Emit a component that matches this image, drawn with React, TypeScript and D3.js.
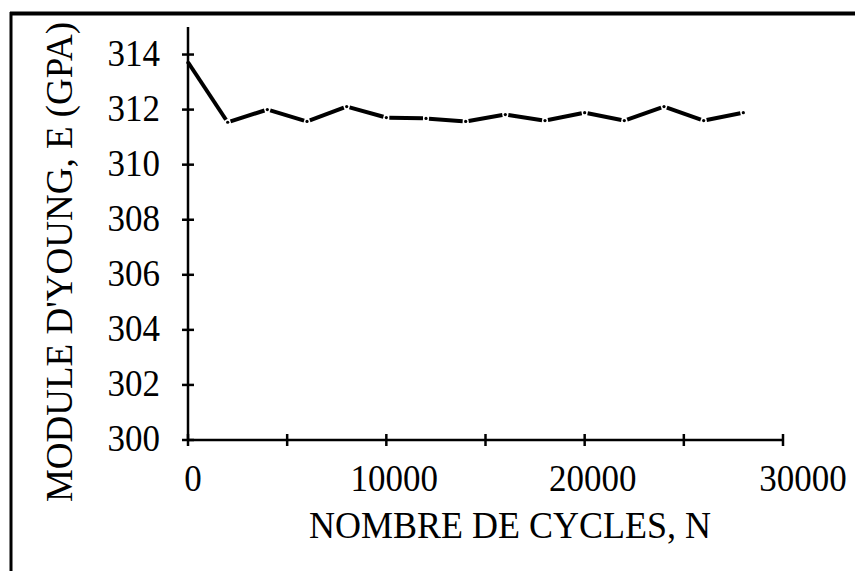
import React from "react";
import * as d3 from "d3";

const cycles = [0, 2000, 4000, 6000, 8000, 10000, 12000, 14000, 16000, 18000, 20000, 22000, 24000, 26000, 28000];
const modulus = [313.72, 311.54, 312.0, 311.57, 312.11, 311.71, 311.68, 311.57, 311.82, 311.6, 311.89, 311.6, 312.11, 311.6, 311.89];
const xTicks = [0, 5000, 10000, 15000, 20000, 25000, 30000];
const xTickLabels = [0, 10000, 20000, 30000];
const yTicks = [300, 302, 304, 306, 308, 310, 312, 314];
const xTitle = "NOMBRE DE CYCLES, N";
const yTitle = "MODULE D'YOUNG, E (GPA)";

export default function App() {
  const W = 855, H = 571;
  const x = d3.scaleLinear().domain([0, 30000]).range([188, 783]);
  const y = d3.scaleLinear().domain([300, 315]).range([440, 27]);
  const font = "'Liberation Serif', 'Times New Roman', serif";
  const pts = cycles.map((c, i) => [x(c), y(modulus[i])] as [number, number]);
  const gap = 3;
  const segs = pts.slice(1).map((p, i) => {
    const a = pts[i];
    const dx = p[0] - a[0], dy = p[1] - a[1];
    const L = Math.hypot(dx, dy);
    const ux = dx / L, uy = dy / L;
    const g0 = i === 0 ? 0 : gap;
    return [a[0] + ux * g0, a[1] + uy * g0, p[0] - ux * gap, p[1] - uy * gap];
  });
  return (
    <svg width={W} height={H} style={{ position: "absolute", left: 0, top: 0, background: "#fff" }}>
      <rect x={0} y={0} width={W} height={H} fill="#fff" />
      {/* frame */}
      <line x1={11} y1={12} x2={11} y2={H} stroke="#000" strokeWidth={3} />
      <line x1={10} y1={13.5} x2={W} y2={13.5} stroke="#000" strokeWidth={4} />
      {/* y axis */}
      <line x1={x(0)} y1={y(315)} x2={x(0)} y2={y(300)} stroke="#000" strokeWidth={2.5} />
      {yTicks.map((t) => (
        <g key={t}>
          <line x1={x(0) - 6} x2={x(0) + 6} y1={y(t)} y2={y(t)} stroke="#000" strokeWidth={2.5} />
          <text transform={`translate(160,${y(t) + 11}) scale(1,1.1)`} textAnchor="end" fontFamily={font} fontSize={35} fill="#000">{t}</text>
        </g>
      ))}
      {/* x axis */}
      <line x1={x(0)} y1={y(300)} x2={x(30000)} y2={y(300)} stroke="#000" strokeWidth={2.5} />
      {xTicks.map((t) => (
        <line key={t} x1={x(t)} x2={x(t)} y1={y(300) - 6} y2={y(300) + 6} stroke="#000" strokeWidth={2.5} />
      ))}
      {xTickLabels.map((t) => (
        <text key={t} transform={`translate(${x(t) + (t === 30000 ? 20 : t === 0 ? 5 : 8)},491) scale(1,1.1)`} textAnchor="middle" fontFamily={font} fontSize={35} fill="#000">{t}</text>
      ))}
      <text transform="translate(510,538) scale(1,1.08)" textAnchor="middle" fontFamily={font} fontSize={36} fill="#000">{xTitle}</text>
      <text transform={`translate(72,262) rotate(-90)`} textAnchor="middle" fontFamily={font} fontSize={37} fill="#000">{yTitle}</text>
      {/* series */}
      {segs.map((s, i) => (
        <line key={i} x1={s[0]} y1={s[1]} x2={s[2]} y2={s[3]} stroke="#000" strokeWidth={4} />
      ))}
      {pts.map((p, i) => (
        <circle key={i} cx={p[0]} cy={p[1]} r={1.6} fill="#000" />
      ))}
    </svg>
  );
}
